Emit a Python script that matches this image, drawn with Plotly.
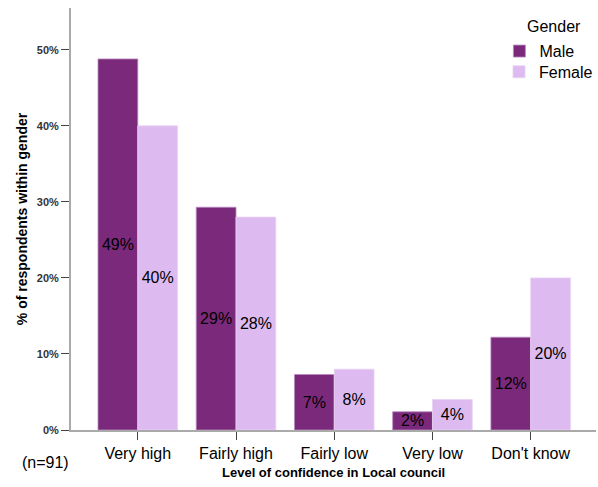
import plotly.graph_objects as go

categories = ["Very high", "Fairly high", "Fairly low", "Very low", "Don't know"]
male_values = [48.8, 29.3, 7.3, 2.4, 12.2]
female_values = [40.0, 28.0, 8.0, 4.0, 20.0]
male_labels = ["49%", "29%", "7%", "2%", "12%"]
female_labels = ["40%", "28%", "8%", "4%", "20%"]
y_tickvals = [0, 10, 20, 30, 40, 50]
y_ticktext = ["0%", "10%", "20%", "30%", "40%", "50%"]

FONT = "Liberation Sans, Arial, sans-serif"

fig = go.Figure()
fig.add_trace(go.Bar(
    name="Male", x=categories, y=male_values, text=male_labels,
    textposition="inside", insidetextanchor="middle", constraintext="none",
    textfont=dict(family=FONT, size=16, color="black"),
    marker=dict(color="#7B2A7B", line=dict(color="#B98BC0", width=0.8)),
    legend="legend",
))
fig.add_trace(go.Bar(
    name="Female", x=categories, y=female_values, text=female_labels,
    textposition="inside", insidetextanchor="middle", constraintext="none",
    textfont=dict(family=FONT, size=16, color="black"),
    marker=dict(color="#DDBBF0", line=dict(color="#E8D2F5", width=0.8)),
    legend="legend2",
))

legend_common = dict(
    xanchor="left", yanchor="top",
    font=dict(size=16, family=FONT, color="black"),
    bgcolor="rgba(0,0,0,0)", itemwidth=30,
)

fig.update_layout(
    width=598, height=487,
    margin=dict(l=71, r=0, t=8, b=57),
    paper_bgcolor="white", plot_bgcolor="white",
    barmode="group", bargap=0.19, bargroupgap=0,
    font=dict(family=FONT, color="black"),
    showlegend=True,
    legend=dict(x=0.816, y=0.938, **legend_common),
    legend2=dict(x=0.816, y=0.889, **legend_common),
    xaxis=dict(
        range=[-0.68, 4.665], showline=True, linecolor="#AAAAAA", linewidth=2,
        ticks="outside", ticklen=8, tickcolor="#444444", tickwidth=1.2,
        tickfont=dict(size=16, family=FONT, color="black"),
        showgrid=False, zeroline=False,
    ),
    yaxis=dict(
        range=[0, 55.5], showline=True, linecolor="#AAAAAA", linewidth=2,
        tickvals=y_tickvals, ticktext=y_ticktext,
        ticks="outside", ticklen=8, tickcolor="#444444", tickwidth=1.2,
        tickfont=dict(size=11, family=FONT, color="#333333", weight="bold"),
        showgrid=False, zeroline=False,
    ),
    annotations=[
        dict(text="Gender", xref="paper", yref="paper",
             x=0.92, y=0.955, showarrow=False, xanchor="center", yanchor="middle",
             font=dict(size=16, family=FONT, color="black")),
        dict(text="<b>% of respondents within gender</b>", xref="paper", yref="paper",
             x=-0.093, y=0.5, textangle=-90, showarrow=False,
             font=dict(size=14, family=FONT, color="black"), xanchor="center", yanchor="middle"),
        dict(text="<b>Level of confidence in Local council</b>", xref="paper", yref="paper",
             x=0.5, y=-0.1, showarrow=False, xanchor="center", yanchor="middle",
             font=dict(size=13, family=FONT, color="black")),
        dict(text="(n=91)", xref="paper", yref="paper",
             x=-0.049, y=-0.078, showarrow=False, xanchor="center", yanchor="middle",
             font=dict(size=16, family=FONT, color="black")),
    ],
)

fig.write_html("out.html", config={"displayModeBar": False},
               post_script="document.body.style.margin='0';")
